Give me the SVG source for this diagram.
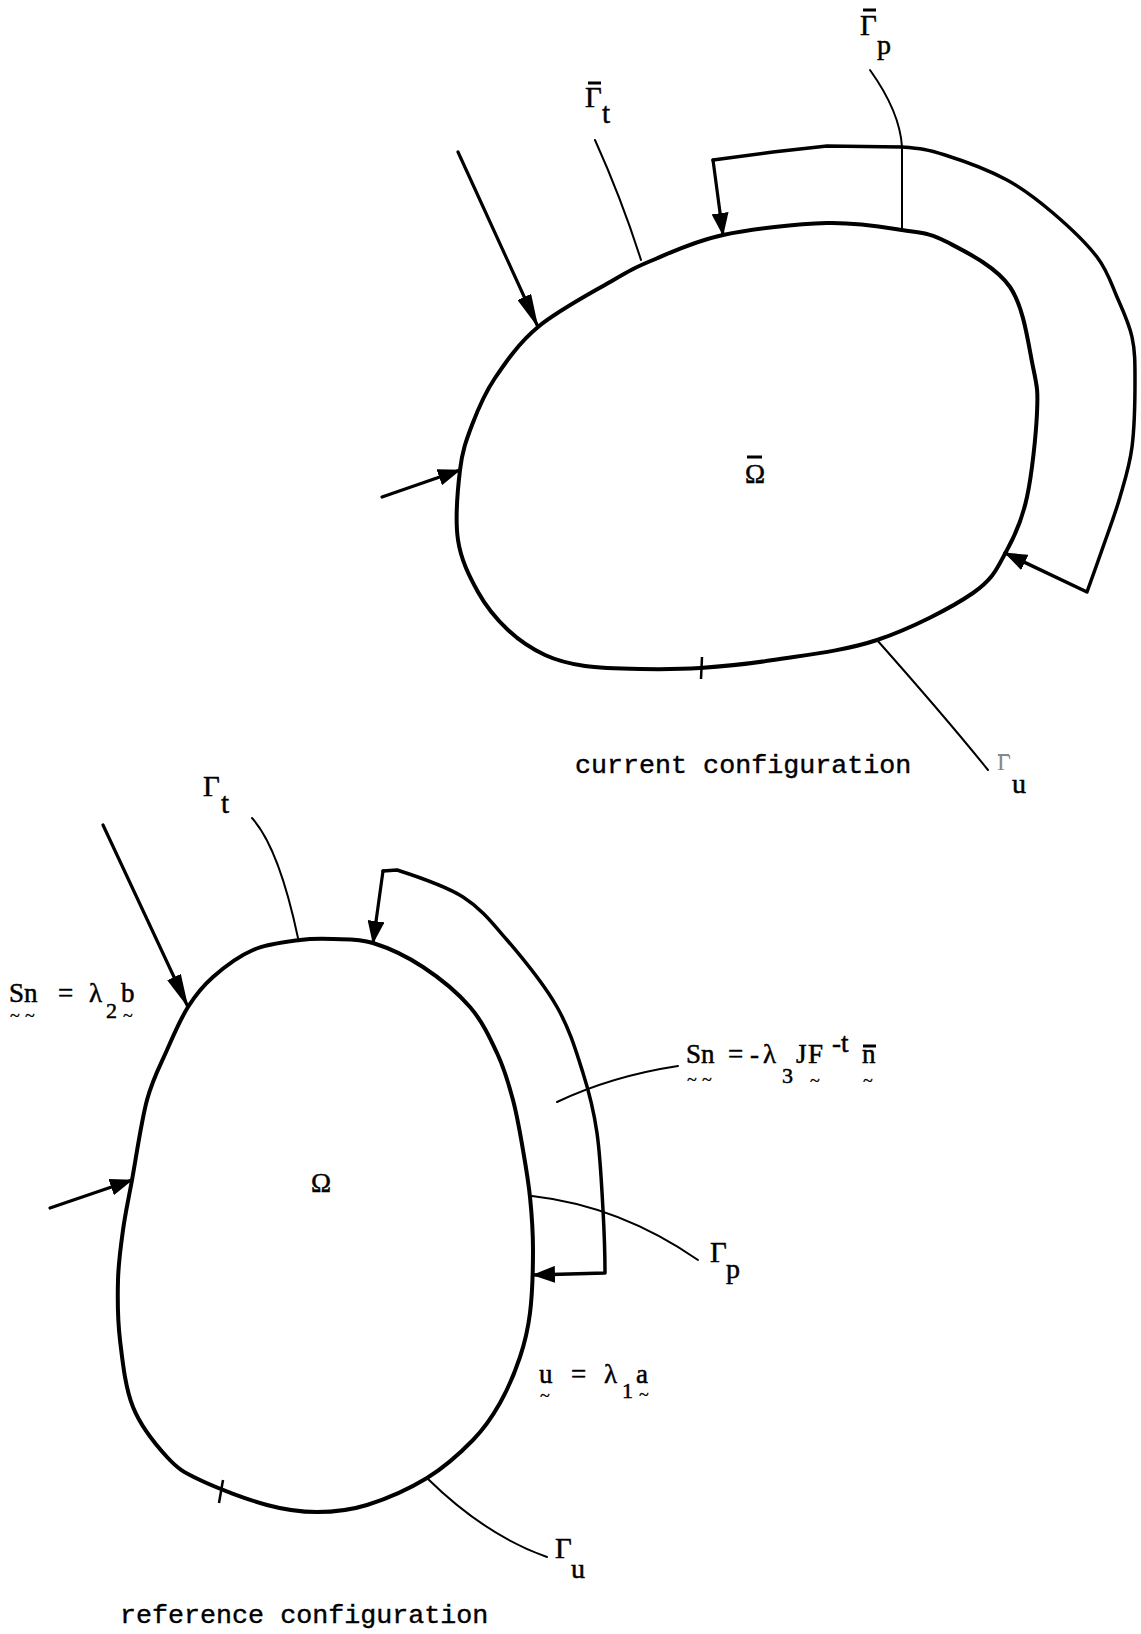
<svg xmlns="http://www.w3.org/2000/svg" width="1141" height="1634" viewBox="0 0 1141 1634">
<defs>
<style>
.body{fill:none;stroke:#000;stroke-width:4;stroke-linejoin:round;stroke-linecap:round}
.box{fill:none;stroke:#000;stroke-width:3.5;stroke-linejoin:round;stroke-linecap:round}
.lead{fill:none;stroke:#000;stroke-width:2;stroke-linecap:round}
.shaft{fill:none;stroke:#000;stroke-width:3.2;stroke-linecap:round}
.tick{fill:none;stroke:#000;stroke-width:2.5}
.bar{fill:none;stroke:#000;stroke-width:3}
.lbl{font-family:"Liberation Serif","DejaVu Serif",serif;fill:#000;stroke:#000;stroke-width:0.5}
.mono{font-family:"Liberation Mono","DejaVu Sans Mono",monospace;font-size:26.7px;fill:#000;stroke:#000;stroke-width:0.4}
.tl{font-family:"Liberation Serif","DejaVu Serif",serif;font-size:18px;fill:#000;stroke:#000;stroke-width:0.3}
</style>
<marker id="ahL" viewBox="0 0 34 15" refX="33" refY="7.5" markerWidth="34" markerHeight="15" markerUnits="userSpaceOnUse" orient="auto"><path d="M0,0 L34,7.5 L0,15 Z" fill="#000"/></marker>
<marker id="ahS" viewBox="0 0 23 17" refX="22" refY="8.5" markerWidth="23" markerHeight="17" markerUnits="userSpaceOnUse" orient="auto"><path d="M0,0 L23,8.5 L0,17 Z" fill="#000"/></marker>
</defs>
<rect width="1141" height="1634" fill="#fff"/>

<!-- current configuration -->
<g id="current-body">
<path class="body" d="M458,540 C455,519.7 457.7,489.2 460,470 C462.3,450.8 466.2,440.3 472,425 C477.8,409.7 484,394.3 495,378 C506,361.7 518.8,343 538,327 C557.2,311 590.8,293.2 610,282 C629.2,270.8 634.2,267.8 653,260 C671.8,252.2 694,241.2 723,235 C752,228.8 797.2,223.8 827,223 C856.8,222.2 882,226.8 902,230 C922,233.2 929,232.5 947,242 C965,251.5 995.7,266.2 1010,287 C1024.3,307.8 1028.5,346 1033,367 C1037.5,388 1038,391.3 1037,413 C1036,434.7 1032,474.2 1027,497 C1022,519.8 1016,534 1007,550 C998,566 994.7,578 973,593 C951.3,608 910.3,628.8 877,640 C843.7,651.2 802.5,655.3 773,660 C743.5,664.7 722.2,666.5 700,668 C677.8,669.5 659.2,669.3 640,669 C620.8,668.7 600.8,668.3 585,666 C569.2,663.7 557.8,661 545,655 C532.2,649 519.2,640.5 508,630 C496.8,619.5 486.3,607 478,592 C469.7,577 461,560.3 458,540 Z"/>
<line class="tick" x1="702" y1="657" x2="701" y2="679"/>
<text class="lbl" x="755" y="483" font-size="27" text-anchor="middle">Ω</text>
<line class="bar" x1="747" y1="457" x2="762" y2="457"/>
</g>
<g id="current-pressure-region">
<path class="box" marker-end="url(#ahS)" d="M713,160 L773,152 L827,146 L902,147 C921.7,148.5 927.5,149.5 945,155 C962.5,160.5 989,170.3 1007,180 C1025,189.7 1038,200.2 1053,213 C1068,225.8 1086.3,243 1097,257 C1107.7,271 1111.2,283.7 1117,297 C1122.8,310.3 1129,323.2 1132,337 C1135,350.8 1135,361.7 1135,380 C1135,398.3 1134.5,427.5 1132,447 C1129.5,466.5 1124.8,480.3 1120,497 C1115.2,513.7 1108.5,531.2 1103,547 C1097.5,562.8 1089.7,584.5 1087,592 L1005,553"/>
</g>
<g id="current-labels">
<text class="lbl" x="585" y="107" font-size="29">Γ</text>
<line class="bar" x1="588" y1="83" x2="601" y2="83"/>
<text class="lbl" x="602" y="123" font-size="29">t</text>
<text class="lbl" x="860" y="35" font-size="29">Γ</text>
<line class="bar" x1="863" y1="10" x2="876" y2="10"/>
<text class="lbl" x="877" y="54" font-size="28">p</text>
<text class="lbl" x="997" y="770" font-size="24" style="fill:#888;stroke:none">Γ</text>
<line x1="998" y1="755" x2="1009" y2="755" stroke="#888" stroke-width="2"/>
<text class="lbl" x="1012" y="793" font-size="28">u</text>
<text class="mono" x="575" y="773">current configuration</text>
</g>

<!-- reference configuration -->
<g id="reference-body">
<path class="body" d="M188,1007 C195.7,994.8 202.2,986.5 213,977 C223.8,967.5 238.5,956.2 253,950 C267.5,943.8 286.7,941.8 300,940 C313.3,938.2 320.8,938.5 333,939 C345.2,939.5 358,938.3 373,943 C388,947.7 406.8,956.3 423,967 C439.2,977.7 457.7,992.7 470,1007 C482.3,1021.3 489.8,1037.5 497,1053 C504.2,1068.5 508.7,1083.8 513,1100 C517.3,1116.2 520.2,1133.8 523,1150 C525.8,1166.2 528.3,1180.3 530,1197 C531.7,1213.7 533,1230.7 533,1250 C533,1269.3 532.2,1295.2 530,1313 C527.8,1330.8 525,1342 520,1357 C515,1372 507.8,1389.2 500,1403 C492.2,1416.8 485.2,1427.5 473,1440 C460.8,1452.5 444.7,1467.2 427,1478 C409.3,1488.8 385.3,1499.3 367,1505 C348.7,1510.7 333.7,1512 317,1512 C300.3,1512 286.5,1510.3 267,1505 C247.5,1499.7 216.7,1488 200,1480 C183.3,1472 178.2,1469.2 167,1457 C155.8,1444.8 140.8,1426.5 133,1407 C125.2,1387.5 122.5,1361.2 120,1340 C117.5,1318.8 117.5,1298.3 118,1280 C118.5,1261.7 120.7,1246.7 123,1230 C125.3,1213.3 128,1201.7 132,1180 C136,1158.3 141.2,1121.7 147,1100 C152.8,1078.3 160.2,1065.5 167,1050 C173.8,1034.5 180.3,1019.2 188,1007 Z"/>
<line class="tick" x1="223" y1="1480" x2="219" y2="1503"/>
<text class="lbl" x="321" y="1192" font-size="27" text-anchor="middle">Ω</text>
</g>
<g id="reference-pressure-region">
<path class="box" marker-end="url(#ahS)" d="M383,871 L397,870 C410.3,874.3 444.7,885.3 463,897 C481.3,908.7 491.3,921.7 507,940 C522.7,958.3 544.3,984.8 557,1007 C569.7,1029.2 576.3,1052 583,1073 C589.7,1094 593.7,1110.2 597,1133 C600.3,1155.8 601.7,1186.7 603,1210 C604.3,1233.3 605,1252 605,1273 L533,1275"/>
</g>
<g id="reference-labels">
<text class="lbl" x="203" y="796" font-size="29">Γ</text>
<text class="lbl" x="221" y="813" font-size="29">t</text>
<text class="lbl" x="710" y="1262" font-size="29">Γ</text>
<text class="lbl" x="726" y="1278" font-size="28">p</text>
<text class="lbl" x="555" y="1558" font-size="29">Γ</text>
<text class="lbl" x="571" y="1578" font-size="28">u</text>
<text class="mono" x="120" y="1623">reference configuration</text>

<g id="label-Sn-b">
<text class="lbl" x="9" y="1002" font-size="27">S</text>
<text class="lbl" x="24" y="1002" font-size="27">n</text>
<text class="lbl" x="58" y="1002" font-size="27">=</text>
<text class="lbl" x="89" y="1002" font-size="27">λ</text>
<text class="lbl" x="106" y="1018" font-size="22">2</text>
<text class="lbl" x="121" y="1002" font-size="27">b</text>
<text class="tl" x="10" y="1022">~</text>
<text class="tl" x="25" y="1022">~</text>
<text class="tl" x="123" y="1022">~</text>
</g>
<g id="label-Sn-p">
<text class="lbl" x="686" y="1063" font-size="27">S</text>
<text class="lbl" x="701" y="1063" font-size="27">n</text>
<text class="lbl" x="728" y="1063" font-size="27">=</text>
<text class="lbl" x="750" y="1063" font-size="27">-</text>
<text class="lbl" x="763" y="1063" font-size="27">λ</text>
<text class="lbl" x="782" y="1083" font-size="22">3</text>
<text class="lbl" x="796" y="1063" font-size="27">J</text>
<text class="lbl" x="808" y="1063" font-size="27">F</text>
<text class="lbl" x="832" y="1052" font-size="27">-t</text>
<text class="lbl" x="862" y="1063" font-size="27">n</text>
<line class="bar" x1="863" y1="1046" x2="876" y2="1046" stroke-width="2.5"/>
<text class="tl" x="687" y="1086">~</text>
<text class="tl" x="702" y="1086">~</text>
<text class="tl" x="810" y="1087">~</text>
<text class="tl" x="863" y="1087">~</text>
</g>
<g id="label-u-a">
<text class="lbl" x="539" y="1383" font-size="27">u</text>
<text class="lbl" x="571" y="1383" font-size="27">=</text>
<text class="lbl" x="604" y="1383" font-size="27">λ</text>
<text class="lbl" x="622" y="1398" font-size="22">1</text>
<text class="lbl" x="636" y="1383" font-size="27">a</text>
<text class="tl" x="540" y="1402">~</text>
<text class="tl" x="639" y="1401">~</text>
</g>
</g>

<g id="connectors">
<path class="shaft" marker-end="url(#ahL)" d="M458,152 L538,327"/>
<path class="shaft" marker-end="url(#ahS)" d="M382,497 L460,470"/>
<path class="shaft" marker-end="url(#ahS)" d="M713,160 L723,235"/>
<path class="lead" d="M595,140 Q622,200 641,260"/>
<path class="lead" d="M870,70 Q900,112 902,147 L902,230"/>
<path class="lead" d="M877,640 Q947,719 988,770"/>

<path class="shaft" marker-end="url(#ahL)" d="M103,825 L188,1007"/>
<path class="shaft" marker-end="url(#ahS)" d="M50,1208 L132,1180"/>
<path class="shaft" marker-end="url(#ahS)" d="M383,871 L373,943"/>
<path class="lead" d="M252,818 Q279,848 298,938"/>
<path class="lead" d="M557,1102 Q612,1076 678,1066"/>
<path class="lead" d="M532,1196 Q620,1206 698,1260"/>
<path class="lead" d="M428,1479 Q485,1535 547,1557"/>
</g>
</svg>
